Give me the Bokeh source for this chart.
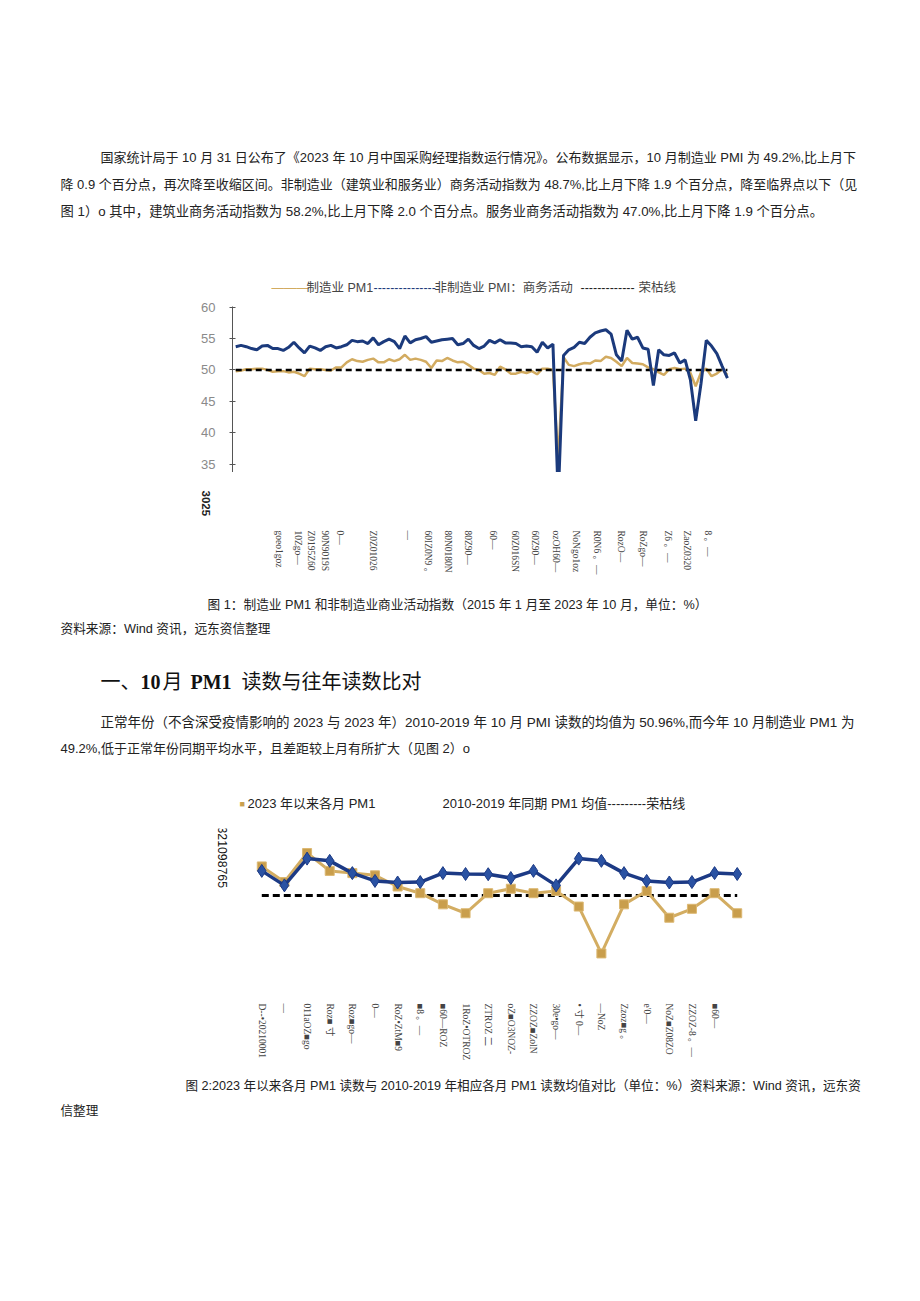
import math
from bokeh.plotting import figure
from bokeh.layouts import column
from bokeh.models import FixedTicker, LinearAxis, Range1d
from bokeh.core.properties import value
from bokeh.embed import file_html
from bokeh.resources import INLINE

# ---------------- data ----------------
# Chart 1: monthly PMI, 2015-01 .. 2022-10
mfg_pmi = [
    49.8, 49.9, 50.1, 50.1, 50.2, 50.2, 50.0, 49.7, 49.8, 49.8, 49.6, 49.7,
    49.4, 49.0, 50.2, 50.1, 50.1, 50.0, 49.9, 50.4, 50.4, 51.2, 51.7, 51.4,
    51.3, 51.6, 51.8, 51.2, 51.2, 51.7, 51.4, 51.7, 52.4, 51.6, 51.8, 51.6,
    51.3, 50.3, 51.5, 51.4, 51.9, 51.5, 51.2, 51.3, 50.8, 50.2, 50.0, 49.4,
    49.5, 49.2, 50.5, 50.1, 49.4, 49.4, 49.7, 49.5, 49.8, 49.3, 50.2, 50.2,
    50.0, 35.7, 52.0, 50.8, 50.6, 50.9, 51.1, 51.0, 51.5, 51.4, 52.1, 51.9,
    51.3, 50.6, 51.9, 51.1, 51.0, 50.9, 50.4, 50.1, 49.6, 49.2, 50.1, 50.3,
    50.1, 50.2, 49.5, 47.4, 49.6, 50.2, 49.0, 49.4, 50.1, 49.2,
]
nonmfg_pmi = [
    53.7, 53.9, 53.7, 53.4, 53.2, 53.8, 53.9, 53.4, 53.4, 53.1, 53.6, 54.4,
    53.5, 52.7, 53.8, 53.5, 53.1, 53.7, 53.9, 53.5, 53.7, 54.0, 54.7, 54.5,
    54.6, 54.2, 55.1, 54.0, 54.5, 54.9, 54.5, 53.4, 55.4, 54.3, 54.8, 55.0,
    55.3, 54.4, 54.6, 54.8, 54.9, 55.0, 54.0, 54.2, 54.9, 53.9, 53.4, 53.8,
    54.7, 54.3, 54.8, 54.3, 54.3, 54.2, 53.7, 53.8, 53.7, 52.8, 54.4, 53.5,
    54.1, 29.6, 52.3, 53.2, 53.6, 54.4, 54.2, 55.2, 55.9, 56.2, 56.4, 55.7,
    52.4, 51.4, 56.3, 54.9, 55.2, 53.5, 53.3, 47.5, 53.2, 52.4, 52.3, 52.7,
    51.1, 51.6, 48.4, 41.9, 47.8, 54.7, 53.8, 52.6, 50.6, 48.7,
]
threshold = 50.0
c1_y_ticks = [35, 40, 45, 50, 55, 60]
c1_tick_pos = [8.1, 11.7, 14.2, 16.8, 19.7, 26.0, 32.5, 36.3, 40.1, 44.0, 48.6,
               52.9, 56.7, 60.5, 64.3, 68.4, 72.8, 77.1, 81.7, 85.4, 89.4]
c1_tick_labels = ["goeo1goz", "10Zgo—", "Z0195Z60", "90N9019S", "0—", "Z0Z01026",
                  "—", "60IZ0N9 。", "80N0180N", "80Z90—", "60—", "60Z016SN",
                  "60Z90—", "ozOH60—", "NoNgo1oz", "R0N6 。—", "RozO—", "RoZgo—",
                  "Z6 。—", "ZaoZ0320", "8 。—"]
c1_low_tick_pos = [-5.71]
c1_low_tick_labels = ["3025"]

# Chart 2: monthly PMI since 2021-01 vs 2010-2019 same-month average
c2_mfg = [51.3, 50.6, 51.9, 51.1, 51.0, 50.9, 50.4, 50.1, 49.6, 49.2, 50.1, 50.3,
          50.1, 50.2, 49.5, 47.4, 49.6, 50.2, 49.0, 49.4, 50.1, 49.2]
c2_avg = [51.1, 50.45, 51.65, 51.55, 51.0, 50.65, 50.58, 50.6, 51.0, 50.96, 50.95, 50.78,
          51.1, 50.45, 51.65, 51.55, 51.0, 50.65, 50.58, 50.6, 51.0, 50.96]
c2_tick_labels = ["D--•20210001", "—", "011aOZ■go", "Roz■ 寸", "Roz■go—", "0—",
                  "RoZ•ZtM■9", "■8 。—", "■60—ROZ", "1RoZ•OTROZ", "ZTROZ 二",
                  "oZ■O3NOZ-", "ZZOZ■ZolN", "30e•go—", "• 寸 0—", "—NoZ",
                  "Zzoz■g 。", "e'0—", "NoZ■Z08ZO", "ZZOZ-8 。—", "■60—"]
c2_y_tick_pos = [-1.75]
c2_y_tick_labels = ["321098765"]

# ---------------- texts ----------------
para1 = [
    "国家统计局于 10 月 31 日公布了《2023 年 10 月中国采购经理指数运行情况》。公布数据显示，10 月制造业 PMI 为 49.2%,比上月下",
    "降 0.9 个百分点，再次降至收缩区间。非制造业（建筑业和服务业）商务活动指数为 48.7%,比上月下降 1.9 个百分点，降至临界点以下（见",
    "图 1）o 其中，建筑业商务活动指数为 58.2%,比上月下降 2.0 个百分点。服务业商务活动指数为 47.0%,比上月下降 1.9 个百分点。",
]
caption1 = "图 1：制造业 PM1 和非制造业商业活动指数（2015 年 1 月至 2023 年 10 月，单位：%）"
source1 = "资料来源：Wind 资讯，远东资信整理"
para2 = [
    "正常年份（不含深受疫情影响的 2023 与 2023 年）2010-2019 年 10 月 PMI 读数的均值为 50.96%,而今年 10 月制造业 PM1 为",
    "49.2%,低于正常年份同期平均水平，且差距较上月有所扩大（见图 2）o",
]
caption2 = "图 2:2023 年以来各月 PM1 读数与 2010-2019 年相应各月 PM1 读数均值对比（单位：%）资料来源：Wind 资讯，远东资"
caption2b = "信整理"

W = 920
SANS = "'Liberation Sans', 'Noto Sans CJK SC', sans-serif"
SERIF = "'Liberation Serif', 'Noto Sans CJK SC', serif"
TAN = "#d2ab60"
NAVY = "#1b3a7c"


def blank(h):
    p = figure(width=W, height=h, x_range=(0, W), y_range=(h, 0),
               x_axis_location=None, y_axis_location=None,
               toolbar_location=None, output_backend="svg", min_border=0)
    p.outline_line_color = None
    p.grid.visible = False
    return p


def put(p, x, y, txt, size, color="#222222", font=SANS, style="normal", align="left"):
    p.text(x=[x], y=[y], text=[txt], text_font=value(font),
           text_font_size=value(size), text_color=color,
           text_font_style=style, text_baseline="middle", text_align=align)


def plain_axis(ax, font, size, color, standoff):
    ax.axis_line_color = None
    ax.major_tick_line_color = None
    ax.minor_tick_line_color = None
    ax.major_tick_in = 0
    ax.major_tick_out = 0
    ax.major_label_standoff = standoff
    ax.major_label_text_font = font
    ax.major_label_text_font_size = size
    ax.major_label_text_color = color
    ax.major_label_orientation = -math.pi / 2


# ---------- top text block (page y 0..298) ----------
t1 = blank(298)
put(t1, 100, 157, para1[0], "13px")
put(t1, 60, 184, para1[1], "13px")
put(t1, 60, 211, para1[2], "13.3px")
# chart 1 legend
put(t1, 271, 287, "———", "12.5px", TAN)
put(t1, 306, 287, "制造业 PM1", "12.5px", "#444444")
put(t1, 373, 287, "---------------", "12.5px", NAVY)
put(t1, 434, 287, "非制造业 PMI：商务活动", "12.5px", "#444444")
put(t1, 580, 287, "-------------", "12.5px", "#222222")
put(t1, 638, 287, "荣枯线", "12.5px", "#444444")

# ---------- chart 1 plot area (page y 298..472) ----------
months = list(range(len(mfg_pmi)))
c1_x = Range1d(-44.49, 129.52)
c1 = figure(width=W, height=174, x_range=c1_x, y_range=(33.65, 61.375),
            toolbar_location=None, output_backend="svg", x_axis_location=None,
            min_border=0)
c1.outline_line_color = None
c1.grid.visible = False
c1.line(months, mfg_pmi, line_color=TAN, line_width=2.5)
c1.line([months[0], months[-1]], [threshold, threshold], line_color="black",
        line_width=2.5, line_dash="6 4")
c1.line(months, nonmfg_pmi, line_color=NAVY, line_width=3)

ya = c1.yaxis[0]
ya.fixed_location = -0.6
ya.bounds = (33.65, 60.1)
ya.ticker = FixedTicker(ticks=c1_y_ticks)
ya.axis_line_color = "#555555"
ya.major_tick_line_color = "#555555"
ya.major_tick_in = 3
ya.major_tick_out = 3
ya.minor_tick_line_color = None
ya.major_label_text_color = "#8a8a8a"
ya.major_label_text_font = SANS
ya.major_label_text_font_size = "13px"
ya.major_label_standoff = 14

# ---------- chart 1 category labels (page y 472..596) ----------
c1b = figure(width=W, height=124, x_range=c1_x, y_range=(124, 0),
             toolbar_location=None, output_backend="svg", y_axis_location=None,
             min_border=0)
c1b.outline_line_color = None
c1b.grid.visible = False
xa = c1b.xaxis[0]
xa.fixed_location = 0
xa.ticker = FixedTicker(ticks=c1_tick_pos)
xa.major_label_overrides = {p: l for p, l in zip(c1_tick_pos, c1_tick_labels)}
plain_axis(xa, SERIF, "9.5px", "#444444", 58)

xlow = LinearAxis(fixed_location=0, ticker=FixedTicker(ticks=c1_low_tick_pos),
                  major_label_overrides={p: l for p, l in zip(c1_low_tick_pos, c1_low_tick_labels)})
plain_axis(xlow, SANS, "11.5px", "#222222", 18)
xlow.major_label_text_font_style = "bold"
c1b.add_layout(xlow, "below")

# ---------- middle text block (page y 596..815) ----------
t2 = blank(219)
put(t2, 207, 8, caption1, "12.7px")
put(t2, 60, 32, source1, "12.7px")
put(t2, 100, 85, "一、", "20px", "#111111", SERIF)
put(t2, 140, 85, "10", "20px", "#111111", SERIF, "bold")
put(t2, 162, 85, "月", "20px", "#111111", SERIF)
put(t2, 190, 85, "PM1", "20px", "#111111", SERIF, "bold")
put(t2, 241, 85, "读数与往年读数比对", "20px", "#111111", SERIF)
put(t2, 100, 126, para2[0], "13.5px")
put(t2, 60, 152, para2[1], "13px")
# chart 2 legend
put(t2, 239, 207, "■", "9px", "#c9a050")
put(t2, 247, 207, "2023 年以来各月 PM1", "13px")
put(t2, 442, 207, "2010-2019 年同期 PM1 均值---------荣枯线", "13px")

# ---------- chart 2 (page y 815..1072) ----------
cats = list(range(len(c2_mfg)))
c2 = figure(width=W, height=257, x_range=(-11.541, 29.095), y_range=(45.2, 53.0),
            toolbar_location=None, output_backend="svg", y_axis_location=None,
            min_border_left=0, min_border_right=0,
            min_border_top=13, min_border_bottom=70)
c2.outline_line_color = None
c2.grid.visible = False
c2.line([cats[0], cats[-1]], [threshold, threshold], line_color="black",
        line_width=3, line_dash="7 4")
c2.line(cats, c2_mfg, line_color="#d3ad62", line_width=3)
c2.scatter(cats, c2_mfg, marker="square", size=9, fill_color="#c99e4c",
           line_color="#dcb872", line_width=1)
c2.line(cats, c2_avg, line_color="#1c3a85", line_width=3.5)
c2.scatter(cats, c2_avg, marker="diamond", size=13, fill_color="#2a52a3",
           line_color="#1c3a85", line_width=1)

xb = c2.xaxis[0]
tick_idx = cats[:len(c2_tick_labels)]
xb.ticker = FixedTicker(ticks=tick_idx)
xb.major_label_overrides = {i: l for i, l in zip(tick_idx, c2_tick_labels)}
plain_axis(xb, SERIF, "9.5px", "#444444", 1)

xtop = LinearAxis(fixed_location=53.09, ticker=FixedTicker(ticks=c2_y_tick_pos),
                  major_label_overrides={p: l for p, l in zip(c2_y_tick_pos, c2_y_tick_labels)})
plain_axis(xtop, SANS, "12.3px", "#111111", 0)
c2.add_layout(xtop, "below")

# ---------- bottom text block (page y 1072..1301) ----------
t3 = blank(229)
put(t3, 185, 13, caption2, "12.6px")
put(t3, 60, 38, caption2b, "12.6px")

layout = column(t1, c1, c1b, t2, c2, t3, spacing=0)
open("out.html", "w").write(file_html(layout, INLINE))
